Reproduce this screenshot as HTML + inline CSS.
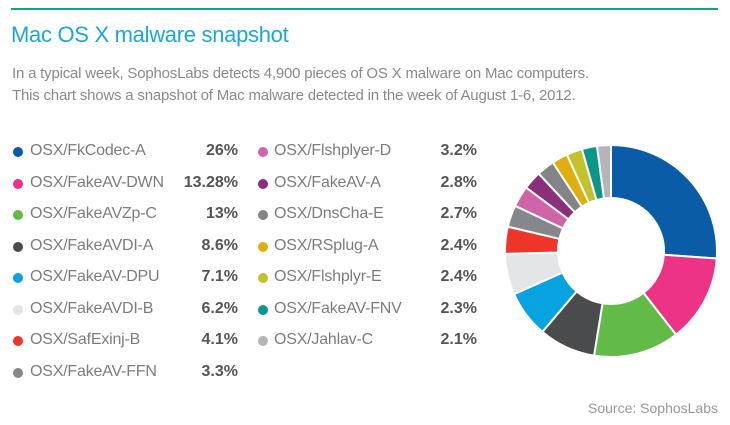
<!DOCTYPE html>
<html><head><meta charset="utf-8"><style>
body{margin:0;background:#fff;font-family:"Liberation Sans",sans-serif;}
#wrap{position:relative;width:730px;height:425px;overflow:hidden;}
.t{position:absolute;white-space:nowrap;}
</style></head><body>
<div id="wrap">
<div style="position:absolute;left:11px;top:8px;width:707px;height:2px;background:#14a08f"></div>
<div class="t" style="left:11px;top:22px;font-size:22px;color:#1ba6de;letter-spacing:-0.3px">Mac OS X malware snapshot</div>
<div class="t" style="left:12px;top:65px;font-size:15px;color:#8a8a8a;letter-spacing:-0.2px">In a typical week, SophosLabs detects 4,900 pieces of OS X malware on Mac computers.</div>
<div class="t" style="left:12px;top:87px;font-size:15px;color:#8a8a8a;letter-spacing:-0.2px">This chart shows a snapshot of Mac malware detected in the week of August 1-6, 2012.</div>
<div id="legend"></div>
<svg id="donut" width="730" height="425" style="position:absolute;left:0;top:0"></svg>
<div class="t" style="right:12px;top:400px;font-size:14px;color:#999">Source: SophosLabs</div>
</div>
<script>
const names=["OSX/FkCodec-A","OSX/FakeAV-DWN","OSX/FakeAVZp-C","OSX/FakeAVDI-A","OSX/FakeAV-DPU","OSX/FakeAVDI-B","OSX/SafExinj-B","OSX/FakeAV-FFN","OSX/Flshplyer-D","OSX/FakeAV-A","OSX/DnsCha-E","OSX/RSplug-A","OSX/Flshplyr-E","OSX/FakeAV-FNV","OSX/Jahlav-C"];
const values=[26,13.28,13,8.6,7.1,6.2,4.1,3.3,3.2,2.8,2.7,2.4,2.4,2.3,2.1];
const labels=["26%","13.28%","13%","8.6%","7.1%","6.2%","4.1%","3.3%","3.2%","2.8%","2.7%","2.4%","2.4%","2.3%","2.1%"];
const colors=["#0b5ca6","#ec3385","#63bb47","#4a4b4d","#07a3e0","#e4e5e6","#ee3529","#86878a","#d064a8","#8a2f7a","#838486","#e0ae0d","#c3c22c","#0a9688","#b4b5b7"];
const leg=document.getElementById('legend');
names.forEach((n,i)=>{
  const col=i<8?0:1, row=i<8?i:i-8;
  const y=152+row*31.5;
  const mx=col?263:18, lx=col?274:30, vr=col?253:492;
  const dot=document.createElement('div');
  
  
  dot.style.cssText=`position:absolute;left:${mx-5}px;top:${y-5}px;width:10px;height:10px;border-radius:50%;background:${colors[i]}`;
  leg.appendChild(dot);
  const l=document.createElement('div');
  l.className='t';
  
  
  l.style.cssText=`left:${lx}px;top:${y-10}px;font-size:16px;color:#7d7d7d;letter-spacing:-0.2px`;
  l.textContent=n;leg.appendChild(l);
  const v=document.createElement('div');
  v.className='t';
  
  
  v.style.cssText=`right:${vr}px;top:${y-10}px;font-size:16px;font-weight:bold;color:#555`;
  v.textContent=labels[i];leg.appendChild(v);
});
const svg=document.getElementById('donut');
const cx=611,cy=251,R=106,r=53;
const total=values.reduce((a,b)=>a+b,0);
let a0=-Math.PI/2;
function pt(rad,a){return [cx+rad*Math.cos(a),cy+rad*Math.sin(a)];}
values.forEach((v,i)=>{
  const a1=a0+v/total*2*Math.PI;
  const p1=pt(R,a0),p2=pt(R,a1),p3=pt(r,a1),p4=pt(r,a0);
  const lg=(a1-a0)>Math.PI?1:0;
  const p=document.createElementNS('http://www.w3.org/2000/svg','path');
  p.setAttribute('d',`M${p1}L${p1}A${R},${R} 0 ${lg} 1 ${p2}L${p3}A${r},${r} 0 ${lg} 0 ${p4}Z`);
  p.setAttribute('fill',colors[i]);p.setAttribute('stroke','#fff');p.setAttribute('stroke-width','2');
  
  
  svg.appendChild(p);
  a0=a1;
});
</script>
</body></html>
